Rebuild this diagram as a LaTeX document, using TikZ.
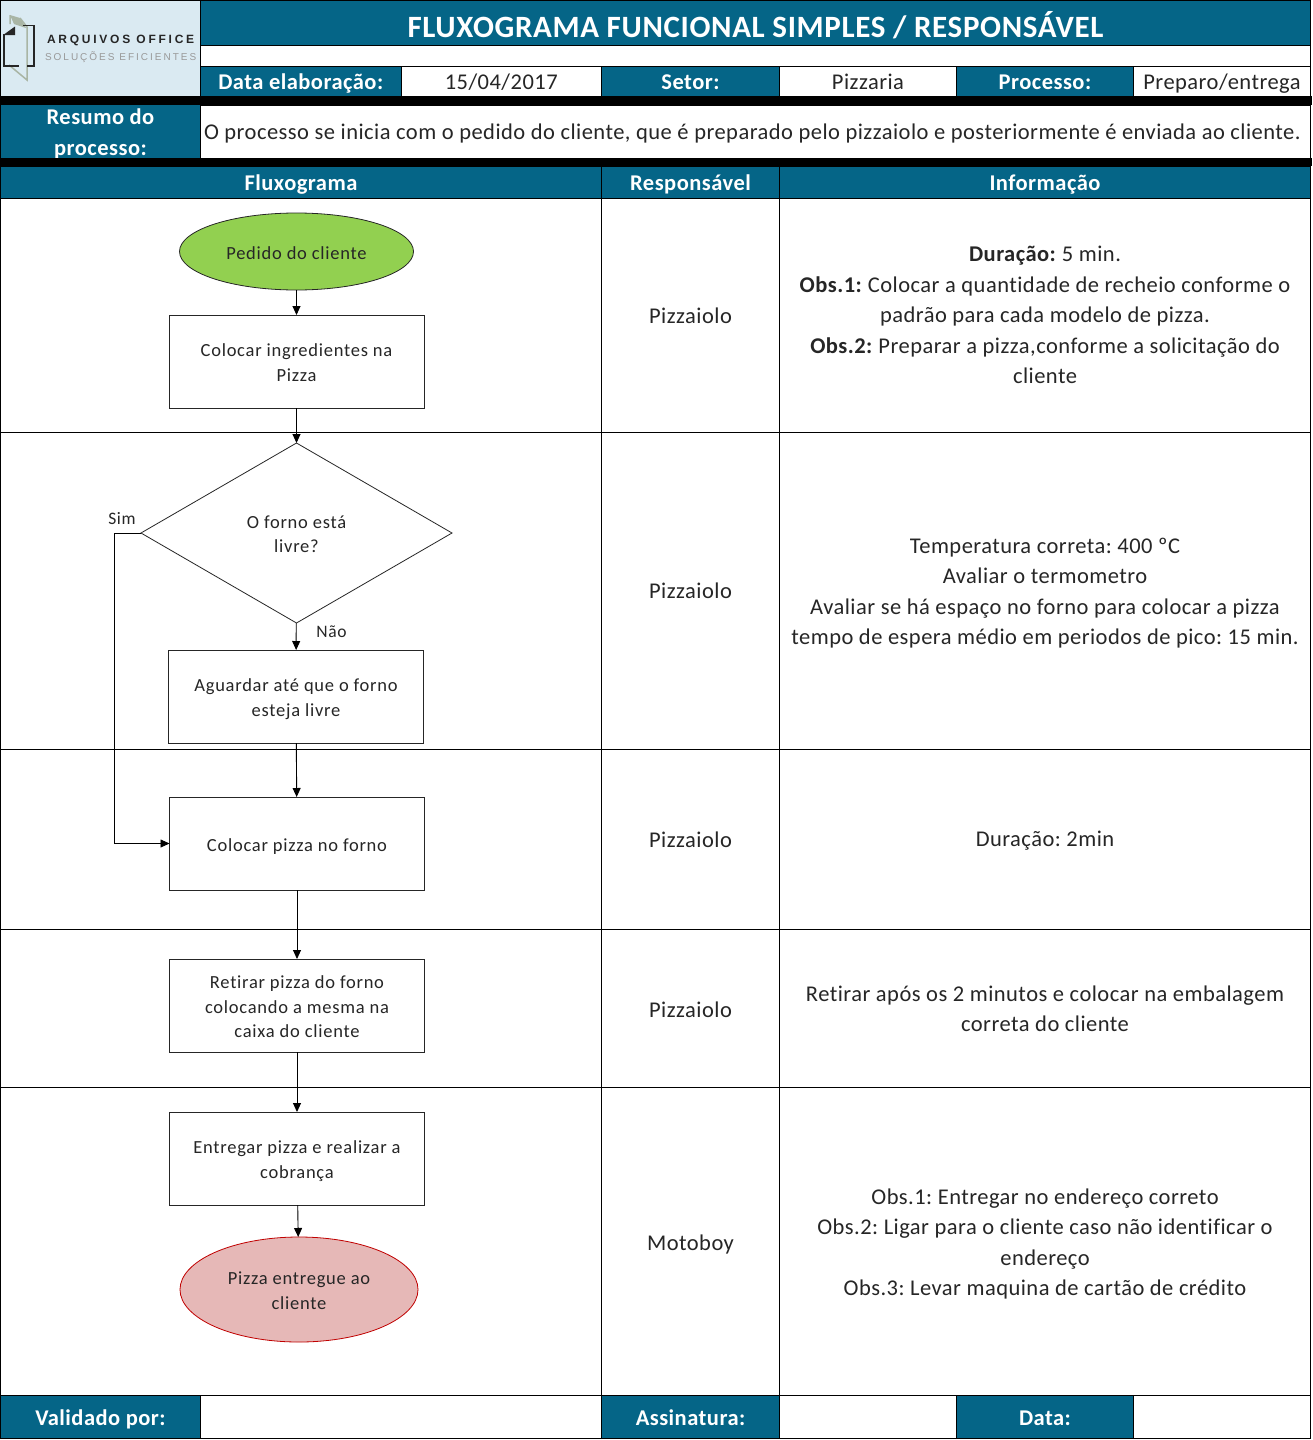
\documentclass[tikz,border=0pt]{standalone}
\usepackage{fontspec}
\setmainfont[LetterSpace=2.1,Ligatures=NoCommon]{Carlito}
\newfontfamily\flowfont[LetterSpace=4,Ligatures=NoCommon]{Carlito}
\newfontfamily\logofont[LetterSpace=23]{Liberation Sans}
\newfontfamily\logosubfont[LetterSpace=20]{Liberation Sans}
\usetikzlibrary{shapes.geometric,arrows.meta}
\definecolor{headblue}{HTML}{056587}
\definecolor{logoblue}{HTML}{DAEAF2}
\definecolor{okgreen}{HTML}{92D050}
\definecolor{endred}{HTML}{E6B8B7}
\definecolor{endline}{HTML}{C00000}
\definecolor{doorgrey}{HTML}{A9B5A5}
\begin{document}
\frenchspacing
\begin{tikzpicture}
      [x=1pt,y=-1pt,
      every node/.style={inner sep=0pt,outer sep=0pt,align=center,text=black!85},
      drop/.style={execute at begin node={\rule{0pt}{#1pt}},execute at end node={\rule[-6pt]{0pt}{6pt}}},
      cell/.style={draw=black,line width=0.9pt,fill=white,drop=21,font=\fontsize{22.5}{30.5}\selectfont},
      head/.style={cell,fill=headblue,text=white,drop=22,font=\fontsize{22.5}{31}\selectfont\bfseries},
      band/.style={fill=black,minimum width=1312},
      flowbox/.style={draw=black!85,line width=0.8pt,fill=white,minimum width=255,minimum height=93,drop=21,font=\flowfont\fontsize{18.5}{24.5}\selectfont},
      flowell/.style={ellipse,draw=black!85,line width=0.8pt,drop=21,font=\flowfont\fontsize{18.5}{24.5}\selectfont},
      flowtext/.style={font=\flowfont\fontsize{17.5}{22}\selectfont},
      flowarrow/.style={draw=black,line width=0.9pt,-{Triangle[length=9pt,width=8pt]}},
      ]
      \useasboundingbox (0,0) rectangle (1312,1440);
      \fill[white] (0,0) rectangle (1312,1440);
      % top of the form
      \node[cell,fill=logoblue,minimum width=200,minimum height=96] (logo) at (100.5,48) {};
      \node[head,drop=28,minimum width=1110,minimum height=52,font=\fontsize{31}{36}\selectfont\bfseries] (title) at (755.5,26) {FLUXOGRAMA FUNCIONAL SIMPLES / RESPONSÁVEL};
      \node[cell,minimum width=1110,minimum height=14] (gap) at (755.5,59) {};
      \node[head,drop=23,minimum width=200.5,minimum height=30] (datalabel) at (300.75,81) {Data elaboração:};
      \node[cell,drop=23,minimum width=200.5,minimum height=30] (dataval) at (501.25,81) {15/04/2017};
      \node[head,drop=23,minimum width=178,minimum height=30] (setorlabel) at (690.5,81) {Setor:};
      \node[cell,drop=23,minimum width=177,minimum height=30] (setorval) at (868,81) {Pizzaria};
      \node[head,drop=23,minimum width=177,minimum height=30] (proclabel) at (1045,81) {Processo:};
      \node[cell,drop=23,minimum width=177,minimum height=30] (procval) at (1222,81) {Preparo/entrega};
      % logo
      \fill[doorgrey] (10,15) -- (20,18) -- (26,28) -- (14,24) -- cycle;
      \draw[doorgrey,line width=1.5pt] (10,15) -- (10,24) (20,18) -- (27,27) -- (27,80) -- (9,65);
      \draw[black!85,line width=1.6pt] (4,34) -- (4,66) -- (19,66) (23,25.5) -- (34,25.5) -- (34,66) -- (27,66);
      \fill[black!85] (3.2,35) -- (15,26.5) -- (15,35) -- cycle;
      \node[anchor=west,font=\logofont\fontsize{12}{12}\selectfont\bfseries] (logoname) at (47,40.5) {ARQUIVOS OFFICE};
      \node[anchor=west,text=black!40,font=\logosubfont\fontsize{10}{10}\selectfont] (logosub) at (45,57) {SOLUÇÕES EFICIENTES};
      % summary
      \node[head,drop=53,minimum width=200.5,minimum height=53] (resumolabel) at (100.5,131.5) {Resumo do\\processo:};
      \node[cell,minimum width=1110,minimum height=53] (resumo) at (755.5,131.5) {};
      \node[anchor=west,drop=21,font=\fontsize{22.5}{30.5}\selectfont] (resumotxt) at (204,131.5) {O processo se inicia com o pedido do cliente, que é preparado pelo pizzaiolo e posteriormente é enviada ao cliente.};
      \node[band,minimum height=9] (band1) at (656,100.5) {};
      \node[band,minimum height=8] (band2) at (656,162) {};
      % column heads
      \node[head,minimum width=601,minimum height=32] (fluxhead) at (301,182) {Fluxograma};
      \node[head,minimum width=178,minimum height=32] (resphead) at (690.5,182) {Responsável};
      \node[head,minimum width=531,minimum height=32] (infohead) at (1045,182) {Informação};
      % rows
      \node[cell,minimum width=601,minimum height=234] (flow1) at (301,315) {};
      \node[cell,drop=22,minimum width=178,minimum height=234] (resp1) at (690.5,315) {Pizzaiolo};
      \node[cell,drop=143,minimum width=531,minimum height=234] (info1) at (1045,315) {\textbf{Duração:} 5 min.\\\textbf{Obs.1:} Colocar a quantidade de recheio conforme o\\padrão para cada modelo de pizza.\\\textbf{Obs.2:} Preparar a pizza,conforme a solicitação do\\cliente};
      \node[cell,minimum width=601,minimum height=317] (flow2) at (301,590.5) {};
      \node[cell,drop=22,minimum width=178,minimum height=317] (resp2) at (690.5,590.5) {Pizzaiolo};
      \node[cell,drop=114,minimum width=531,minimum height=317] (info2) at (1045,590.5) {Temperatura correta: 400 ºC\\Avaliar o termometro\\Avaliar se há espaço no forno para colocar a pizza\\tempo de espera médio em periodos de pico: 15 min.};
      \node[cell,minimum width=601,minimum height=180] (flow3) at (301,839) {};
      \node[cell,drop=23,minimum width=178,minimum height=180] (resp3) at (690.5,839) {Pizzaiolo};
      \node[cell,minimum width=531,minimum height=180] (info3) at (1045,839) {Duração: 2min};
      \node[cell,minimum width=601,minimum height=158] (flow4) at (301,1008) {};
      \node[cell,drop=24,minimum width=178,minimum height=158] (resp4) at (690.5,1008) {Pizzaiolo};
      \node[cell,drop=53,minimum width=531,minimum height=158] (info4) at (1045,1008) {Retirar após os 2 minutos e colocar na embalagem\\correta do cliente};
      \node[cell,minimum width=601,minimum height=308] (flow5) at (301,1241) {};
      \node[cell,drop=24,minimum width=178,minimum height=308] (resp5) at (690.5,1241) {Motoboy};
      \node[cell,drop=115,minimum width=531,minimum height=308] (info5) at (1045,1241) {Obs.1: Entregar no endereço correto\\Obs.2: Ligar para o cliente caso não identificar o\\endereço\\Obs.3: Levar maquina de cartão de crédito};
      % foot of the form
      \node[head,drop=23,minimum width=200,minimum height=43] (validlabel) at (100.5,1416.5) {Validado por:};
      \node[cell,minimum width=401,minimum height=43] (validval) at (401,1416.5) {};
      \node[head,drop=23,minimum width=178,minimum height=43] (assinlabel) at (690.5,1416.5) {Assinatura:};
      \node[cell,minimum width=177,minimum height=43] (assinval) at (868,1416.5) {};
      \node[head,drop=23,minimum width=177,minimum height=43] (datelabel) at (1045,1416.5) {Data:};
      \node[cell,minimum width=177,minimum height=43] (dateval) at (1222,1416.5) {};
      % flowchart
      \node[flowell,fill=okgreen,minimum width=234,minimum height=77] (pedido) at (296.5,251.5) {Pedido do cliente};
      \node[flowbox,drop=45.5] (ingred) at (296.5,361.5) {Colocar ingredientes na\\Pizza};
      \node[diamond,draw=black!85,line width=0.8pt,fill=white,aspect=1.73,minimum width=311,minimum height=180,drop=45.5,font=\flowfont\fontsize{18.5}{24.5}\selectfont] (forno) at (296.5,533) {O forno está\\livre?};
      \node[flowbox,drop=45.5] (aguardar) at (296,696.5) {Aguardar até que o forno\\esteja livre};
      \node[flowbox] (colocar) at (297,843.5) {Colocar pizza no forno};
      \node[flowbox,drop=70] (retirar) at (297,1005.5) {Retirar pizza do forno\\colocando a mesma na\\caixa do cliente};
      \node[flowbox,drop=45.5] (entregar) at (297,1158.5) {Entregar pizza e realizar a\\cobrança};
      \node[flowell,fill=endred,draw=endline,minimum width=238,minimum height=105,drop=45.5] (entregue) at (299,1289.5) {Pizza entregue ao\\cliente};
      \node[flowtext] (simlabel) at (122,519) {Sim};
      \node[flowtext] (naolabel) at (331.5,632) {Não};
      \coordinate (simturn) at (114,533);
      \draw[flowarrow] (pedido) -- (ingred);
      \draw[flowarrow] (ingred) -- (forno);
      \draw[flowarrow] (forno) -- (aguardar);
      \draw[flowarrow] (aguardar) -- (colocar);
      \draw[flowarrow] (colocar) -- (retirar);
      \draw[flowarrow] (retirar) -- (entregar);
      \draw[flowarrow] (entregar) -- (entregue);
      \draw[flowarrow] (forno.west) -- (simturn) |- (colocar.west);
      \end{tikzpicture}
\end{document}
